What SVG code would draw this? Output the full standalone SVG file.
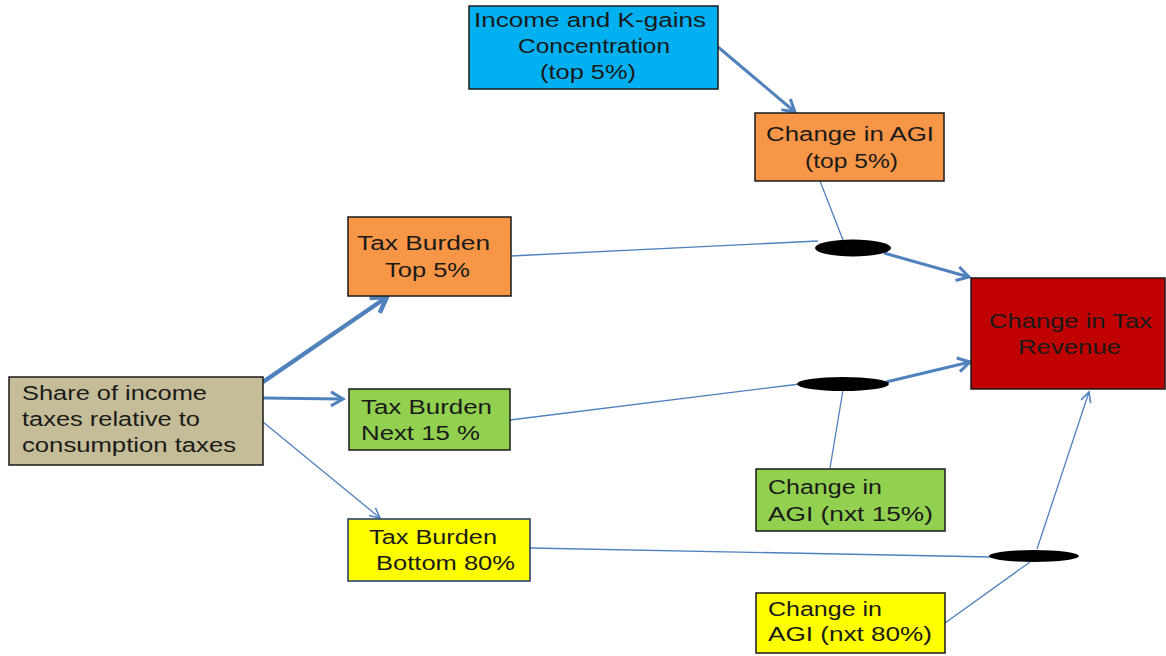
<svg xmlns="http://www.w3.org/2000/svg" width="1166" height="656" viewBox="0 0 1166 656">
<defs>
<marker id="ah" markerWidth="20" markerHeight="20" refX="14" refY="10" orient="auto" markerUnits="userSpaceOnUse" viewBox="0 0 20 20">
<path d="M2,3 L14,10 L2,17" fill="none" stroke="#4F81BD" stroke-width="3" stroke-linejoin="miter"/>
</marker>
<marker id="ahs" markerWidth="16" markerHeight="16" refX="12" refY="8" orient="auto" markerUnits="userSpaceOnUse" viewBox="0 0 16 16">
<path d="M2,3 L12,8 L2,13" fill="none" stroke="#4F81BD" stroke-width="1.6"/>
</marker>
<marker id="ahb" markerWidth="26" markerHeight="26" refX="18" refY="13" orient="auto" markerUnits="userSpaceOnUse" viewBox="0 0 26 26">
<path d="M3,4 L18,13 L3,22" fill="none" stroke="#4F81BD" stroke-width="4.5"/>
</marker>
</defs>
<style>
rect{stroke:#1a1a1a;stroke-width:1.5}
text{font-family:"Liberation Sans",Arial,sans-serif;font-size:20px;fill:#1a1a1a}
.c{text-anchor:middle}
.ln{fill:none;stroke:#4F81BD;stroke-width:1.3}
.md{fill:none;stroke:#4F81BD;stroke-width:3}
.tk{fill:none;stroke:#4F81BD;stroke-width:4.5}
ellipse{fill:#000}
</style>
<rect width="1166" height="656" fill="#fff" style="stroke:none"/>
<g id="connectors">
<line class="md" x1="718" y1="47" x2="795" y2="112" marker-end="url(#ah)"/>
<line class="ln" x1="820" y1="181" x2="843" y2="240"/>
<line class="ln" x1="511" y1="256" x2="818" y2="241"/>
<line class="md" x1="884" y1="253" x2="969" y2="277" marker-end="url(#ah)"/>
<line class="tk" x1="263" y1="382" x2="387" y2="297" marker-end="url(#ahb)"/>
<line class="md" x1="263" y1="398" x2="343" y2="399" marker-end="url(#ah)"/>
<line class="ln" x1="263" y1="422" x2="380" y2="518" marker-end="url(#ahs)"/>
<line class="ln" x1="510" y1="420" x2="800" y2="384"/>
<line class="md" x1="886" y1="382" x2="970" y2="362" marker-end="url(#ah)"/>
<line class="ln" x1="830" y1="468" x2="843" y2="390"/>
<line class="ln" x1="530" y1="548" x2="992" y2="557"/>
<line class="ln" x1="945" y1="623" x2="1030" y2="562"/>
<line class="ln" x1="1037" y1="549" x2="1089" y2="392" marker-end="url(#ahs)"/>
<ellipse cx="853" cy="248" rx="38" ry="8.5"/>
<ellipse cx="843" cy="384" rx="46" ry="7"/>
<ellipse cx="1034" cy="556" rx="45" ry="6"/>
</g>
<g id="n-income">
<rect x="469" y="6" width="249" height="83" fill="#00B0F0"/>
<text x="474" y="27" textLength="232" lengthAdjust="spacingAndGlyphs">Income and K-gains</text>
<text x="518" y="53" textLength="152" lengthAdjust="spacingAndGlyphs">Concentration</text>
<text x="540" y="79" textLength="96" lengthAdjust="spacingAndGlyphs">(top 5%)</text>
</g>
<g id="n-agi-top">
<rect x="755" y="113" width="189" height="68" fill="#F79646"/>
<text x="766" y="141" textLength="168" lengthAdjust="spacingAndGlyphs">Change in AGI</text>
<text x="805" y="168" textLength="93" lengthAdjust="spacingAndGlyphs">(top 5%)</text>
</g>
<g id="n-tb-top">
<rect x="348" y="217" width="163" height="79" fill="#F79646"/>
<text x="357" y="250" textLength="133" lengthAdjust="spacingAndGlyphs">Tax Burden</text>
<text x="385" y="277" textLength="85" lengthAdjust="spacingAndGlyphs">Top 5%</text>
</g>
<g id="n-share">
<rect x="9" y="377" width="254" height="88" fill="#C4BD97"/>
<text x="22" y="400" textLength="185" lengthAdjust="spacingAndGlyphs">Share of income</text>
<text x="22" y="426" textLength="178" lengthAdjust="spacingAndGlyphs">taxes relative to</text>
<text x="22" y="452" textLength="214" lengthAdjust="spacingAndGlyphs">consumption taxes</text>
</g>
<g id="n-tb-next">
<rect x="349" y="389" width="161" height="61" fill="#92D050"/>
<text x="361" y="414" textLength="131" lengthAdjust="spacingAndGlyphs">Tax Burden</text>
<text x="361" y="440" textLength="119" lengthAdjust="spacingAndGlyphs">Next 15 %</text>
</g>
<g id="n-tb-bottom">
<rect x="348" y="519" width="182" height="62" fill="#FFFF00" style="stroke:#1F3864"/>
<text x="369" y="544" textLength="128" lengthAdjust="spacingAndGlyphs">Tax Burden</text>
<text x="376" y="570" textLength="139" lengthAdjust="spacingAndGlyphs">Bottom 80%</text>
</g>
<g id="n-revenue">
<rect x="971" y="278" width="194" height="111" fill="#C00000"/>
<text x="989" y="328" textLength="163" lengthAdjust="spacingAndGlyphs">Change in Tax</text>
<text x="1018" y="354" textLength="103" lengthAdjust="spacingAndGlyphs">Revenue</text>
</g>
<g id="n-agi-next">
<rect x="756" y="469" width="189" height="62" fill="#92D050"/>
<text x="768" y="494" textLength="114" lengthAdjust="spacingAndGlyphs">Change in</text>
<text x="768" y="521" textLength="165" lengthAdjust="spacingAndGlyphs">AGI (nxt 15%)</text>
</g>
<g id="n-agi-bottom">
<rect x="756" y="593" width="189" height="60" fill="#FFFF00"/>
<text x="768" y="616" textLength="114" lengthAdjust="spacingAndGlyphs">Change in</text>
<text x="768" y="641" textLength="164" lengthAdjust="spacingAndGlyphs">AGI (nxt 80%)</text>
</g>
</svg>
